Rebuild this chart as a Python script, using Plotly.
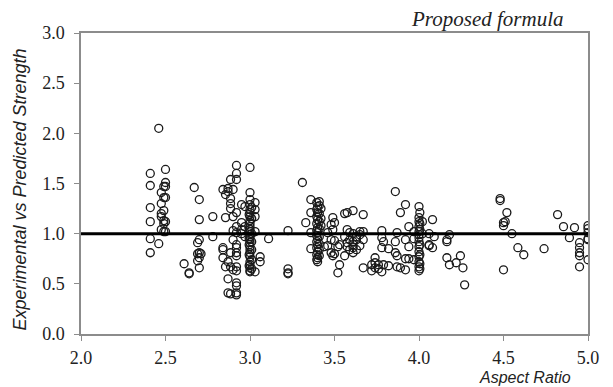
import plotly.graph_objects as go

# Aspect ratio (x) and experimental / predicted strength (y)
aspect_ratio = (
    [2.41]*6 + [2.46]*2 + [2.475]*5 + [2.49]*6 + [2.50]*6
    + [2.61] + [2.64]*2 + [2.67] + [2.69]*3 + [2.70]*6 + [2.71]
    + [2.78]*2 + [2.84]*4 + [2.855]*3 + [2.87]*5 + [2.885]*7 + [2.90]*5
    + [2.92]*16 + [2.95]*4 + [2.97]*3
    + [3.0]*25 + [2.995]*6 + [3.01]*7 + [3.03]*5 + [3.06]*2 + [3.11]
    + [3.225]*4 + [3.31] + [3.33] + [3.36]*4
    + [3.395]*10 + [3.40]*10 + [3.41]*9 + [3.42]*3
    + [3.44] + [3.46]*2 + [3.48]*3 + [3.49]*3 + [3.50]*3 + [3.52]*2 + [3.53]*2
    + [3.56]*3 + [3.575]*4 + [3.59]*3 + [3.61]*6 + [3.63]*3 + [3.65]*3 + [3.67]*4
    + [3.72]*2 + [3.74]*3 + [3.76]*2 + [3.78]*4 + [3.79]*2 + [3.82]*2
    + [3.86]*3 + [3.87]*3 + [3.89]*2 + [3.92]*4 + [3.94]*3 + [3.97]*3
    + [4.0]*14 + [4.005]*7 + [4.02]*2 + [4.06]*3 + [4.08]*2 + [4.09]
    + [4.165]*3 + [4.18]*2 + [4.22] + [4.245] + [4.26] + [4.27]
    + [4.48]*2 + [4.50]*3 + [4.51] + [4.52] + [4.55] + [4.585] + [4.62]
    + [4.74] + [4.82] + [4.855] + [4.89] + [4.92] + [4.95]*5 + [5.0]*6
)

strength_ratio = [
    1.60, 1.48, 1.26, 1.12, 0.95, 0.81,
    2.05, 0.90,
    1.41, 1.30, 1.20, 1.17, 1.04,
    1.47, 1.36, 1.23, 1.13, 1.10, 1.02,
    1.64, 1.51, 1.47, 1.36, 1.12, 1.02,
    0.70,
    0.61, 0.60,
    1.46,
    0.91, 0.80, 0.73,
    1.34, 1.14, 0.94, 0.81, 0.66, 0.76,
    0.80,
    1.17, 0.97,
    1.44, 0.86, 0.84, 0.76,
    1.39, 1.16, 0.67,
    1.45, 1.42, 0.72, 0.55, 0.41,
    1.54, 1.35, 1.30, 1.25, 0.81, 0.67, 0.40,
    1.44, 1.17, 1.03, 0.94, 0.64,
    1.68, 1.60, 1.54, 1.21, 1.07, 1.01, 0.89, 0.86, 0.81, 0.78, 0.67, 0.63, 0.51, 0.48, 0.41, 0.39,
    1.29, 1.11, 1.04, 1.00,
    1.27, 1.07, 0.97,
    1.66, 1.41, 1.34, 1.29, 1.24, 1.21, 1.17, 1.13, 1.10, 1.07, 1.04, 1.02, 0.99,
    0.97, 0.94, 0.91, 0.87, 0.84, 0.81, 0.77, 0.72, 0.69, 0.66, 0.63, 0.62,
    1.19, 1.05, 0.95, 0.89, 0.79, 0.68,
    1.26, 1.15, 1.00, 0.92, 0.84, 0.74, 0.65,
    1.31, 1.24, 1.17, 1.02, 0.62,
    0.77, 0.72,
    0.95,
    1.03, 0.65, 0.61, 0.60,
    1.51,
    1.11,
    1.34, 1.21, 1.01, 0.85,
    1.31, 1.24, 1.17, 1.10, 1.03, 0.98, 0.92, 0.86, 0.79, 0.74,
    1.27, 1.21, 1.14, 1.06, 1.01, 0.95, 0.89, 0.82, 0.76, 0.72,
    1.32, 1.28, 1.20, 1.12, 1.05, 0.97, 0.90, 0.84, 0.78,
    1.25, 1.15, 1.08,
    0.87,
    0.88, 1.01,
    1.09, 0.94, 0.81,
    1.16, 1.04, 0.78,
    1.11, 0.93, 0.80,
    0.61, 0.87,
    0.69, 0.89,
    1.20, 0.97, 0.78,
    1.21, 1.04, 0.91, 0.87,
    1.01, 0.94, 0.84,
    1.23, 1.00, 0.92, 0.89, 0.86, 0.81,
    0.97, 0.94, 0.84,
    0.99, 0.88, 1.02,
    1.19, 1.02, 0.94, 0.66,
    0.63, 0.69,
    0.76, 0.66, 0.71,
    0.69, 0.65,
    1.03, 0.96, 0.86, 0.62,
    0.92, 0.69,
    0.68, 0.85,
    1.42, 0.92, 0.81,
    1.01, 0.78, 0.67,
    1.21, 0.66,
    1.29, 0.94, 0.75, 0.64,
    1.07, 0.87, 0.75,
    1.02, 0.95, 0.74,
    1.27, 1.16, 1.12, 1.07, 1.02, 0.99, 0.96, 0.92, 0.87, 0.82, 0.77, 0.72, 0.67, 0.63,
    1.21, 1.10, 1.04, 0.89, 0.79, 0.70, 0.65,
    1.12, 1.00,
    1.00, 0.88, 0.89,
    1.14, 0.86,
    0.97,
    0.94, 0.92, 0.76,
    0.69, 0.99,
    0.71,
    0.78,
    0.66,
    0.49,
    1.35, 1.33,
    1.11, 1.08, 0.64,
    1.12,
    1.21,
    1.00,
    0.86,
    0.79,
    0.85,
    1.19,
    1.07,
    0.96,
    1.06,
    0.91, 0.86, 0.81, 0.78, 0.67,
    1.08, 1.05, 1.01, 0.95, 0.94, 0.74,
]

reference_x = [2.0, 5.0]
reference_y = [1.0, 1.0]

x_ticks = [2.0, 2.5, 3.0, 3.5, 4.0, 4.5, 5.0]
y_ticks = [0.0, 0.5, 1.0, 1.5, 2.0, 2.5, 3.0]

serif = "Liberation Serif, Times New Roman, serif"
sans = "Liberation Sans, Arial, sans-serif"
axis_gray = "#8c8c8c"

fig = go.Figure()
fig.add_trace(go.Scatter(
    x=aspect_ratio, y=strength_ratio, mode="markers",
    marker=dict(symbol="circle-open", size=8, color="#1a1a1a",
                line=dict(width=1.3, color="#1a1a1a")),
    showlegend=False, hoverinfo="x+y",
))
fig.add_trace(go.Scatter(
    x=reference_x, y=reference_y, mode="lines",
    line=dict(color="black", width=3), showlegend=False, hoverinfo="skip",
))

fig.update_layout(
    width=613, height=387,
    margin=dict(l=81, r=25, t=33, b=53),
    paper_bgcolor="white", plot_bgcolor="white",
    font=dict(family=serif, size=18, color="#222"),
)
fig.update_xaxes(
    range=[2.0, 5.0], tickvals=x_ticks, ticktext=[f"{v:.1f}" for v in x_ticks],
    showgrid=False, zeroline=False,
    showline=True, linecolor=axis_gray, linewidth=1.5, mirror=True,
    ticks="outside", ticklen=5, tickwidth=1.2, tickcolor=axis_gray,
    ticklabelstandoff=2,
    tickfont=dict(family=serif, size=18, color="#222"),
)
fig.update_yaxes(
    range=[0.0, 3.0], tickvals=y_ticks, ticktext=[f"{v:.1f}" for v in y_ticks],
    showgrid=False, zeroline=False,
    showline=True, linecolor=axis_gray, linewidth=1.5, mirror=True,
    ticks="outside", ticklen=5, tickwidth=1.2, tickcolor=axis_gray,
    ticklabelstandoff=6,
    tickfont=dict(family=serif, size=18, color="#222"),
)

fig.add_annotation(
    text="Experimental vs Predicted Strength", textangle=-90,
    xref="paper", yref="paper", x=0, y=0.48, xshift=-61,
    showarrow=False, xanchor="center", yanchor="middle",
    font=dict(family=sans, size=18, color="#222", style="italic"),
)
fig.add_annotation(
    text="Aspect Ratio",
    xref="paper", yref="paper", x=0.875, y=0, yshift=-43,
    showarrow=False, xanchor="center", yanchor="middle",
    font=dict(family=sans, size=16, color="#222", style="italic"),
)
fig.add_annotation(
    text="Proposed formula",
    xref="paper", yref="paper", x=0.80, y=1, yshift=14,
    showarrow=False, xanchor="center", yanchor="middle",
    font=dict(family=serif, size=21, color="#222", style="italic"),
)

fig.write_html("out.html")
